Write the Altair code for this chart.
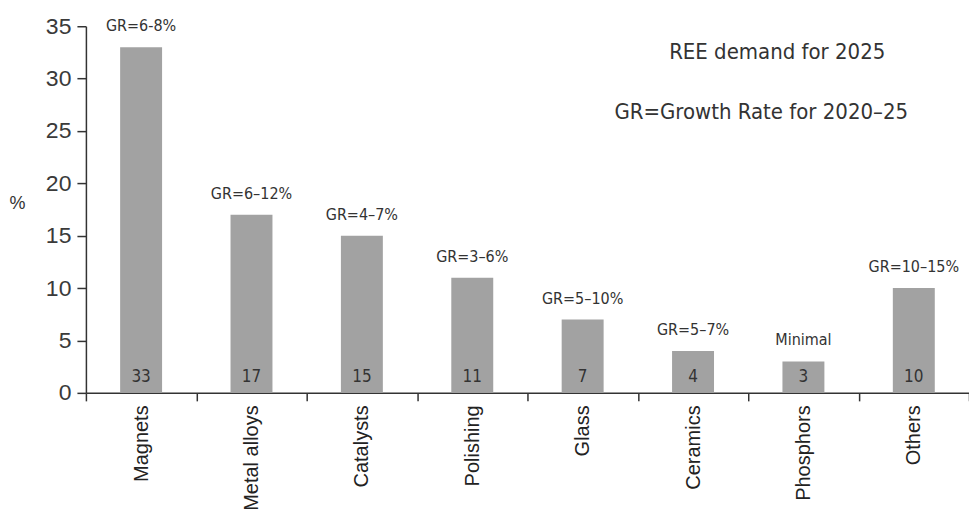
import altair as alt
import pandas as pd

categories = ["Magnets", "Metal alloys", "Catalysts", "Polishing", "Glass",
              "Ceramics", "Phosphors", "Others"]
shares = [33, 17, 15, 11, 7, 4, 3, 10]
growth = ["GR=6-8%", "GR=6\u201312%", "GR=4\u20137%", "GR=3\u20136%", "GR=5\u201310%",
          "GR=5\u20137%", "Minimal", "GR=10\u201315%"]

df = pd.DataFrame({"category": categories, "share": shares, "growth": growth})

NARROW = "Liberation Sans Narrow, DejaVu Sans Condensed, Roboto, sans-serif"
INK = "#333333"

x = alt.X(
    "category:N",
    sort=categories,
    scale=alt.Scale(paddingInner=0, paddingOuter=0),
    axis=alt.Axis(
        title=None, labelAngle=-90, labelAlign="right", labelBaseline="middle",
        labelFont="Liberation Sans", labelFontSize=20, labelColor="#222222",
        labelPadding=4, tickSize=8, tickBand="extent", tickColor=INK,
        domainColor=INK, tickWidth=1.5, domainWidth=1.5,
    ),
)
y = alt.Y(
    "share:Q",
    scale=alt.Scale(domain=[0, 35], nice=False),
    axis=alt.Axis(
        title="%", titleAngle=0, titleX=-77, titleY=186, titleAlign="left",
        titleFont="Liberation Sans", titleFontSize=18, titleFontWeight="normal",
        titleColor=INK, values=[0, 5, 10, 15, 20, 25, 30, 35],
        labelFont="Liberation Sans", labelFontSize=23, labelColor="#3a3a3a",
        labelPadding=6, tickSize=9, tickColor=INK, domainColor=INK,
        tickWidth=1.5, domainWidth=1.5, grid=False,
    ),
)

base = alt.Chart(df).encode(x=x)

bars = base.mark_bar(color="#a2a2a2", width=alt.RelativeBandSize(0.38)).encode(y=y)

values = base.mark_text(
    font=NARROW, fontSize=17, color=INK, baseline="middle", dy=-16
).encode(y=alt.datum(0), text="share:Q")

gr = base.mark_text(
    font=NARROW, fontSize=16, color=INK, baseline="middle", dy=-21
).encode(y="share:Q", text="growth:N")

note1 = alt.Chart(pd.DataFrame({"t": ["REE demand for 2025"]})).mark_text(
    font=NARROW, fontSize=22, color=INK, align="center", baseline="middle"
).encode(x=alt.value(692), y=alt.value(26), text="t:N")

note2 = alt.Chart(pd.DataFrame({"t": ["GR=Growth Rate for 2020\u201325"]})).mark_text(
    font=NARROW, fontSize=22, color=INK, align="center", baseline="middle"
).encode(x=alt.value(676), y=alt.value(86), text="t:N")

chart = (
    alt.layer(bars, values, gr, note1, note2)
    .properties(
        width=884, height=367,
        autosize=alt.AutoSizeParams(type="none"),
        padding={"left": 86, "top": 26, "right": 0, "bottom": 128},
        background="white",
    )
    .configure_view(stroke=None)
)

chart.save("out.html", embed_options={"renderer": "svg", "actions": False})
